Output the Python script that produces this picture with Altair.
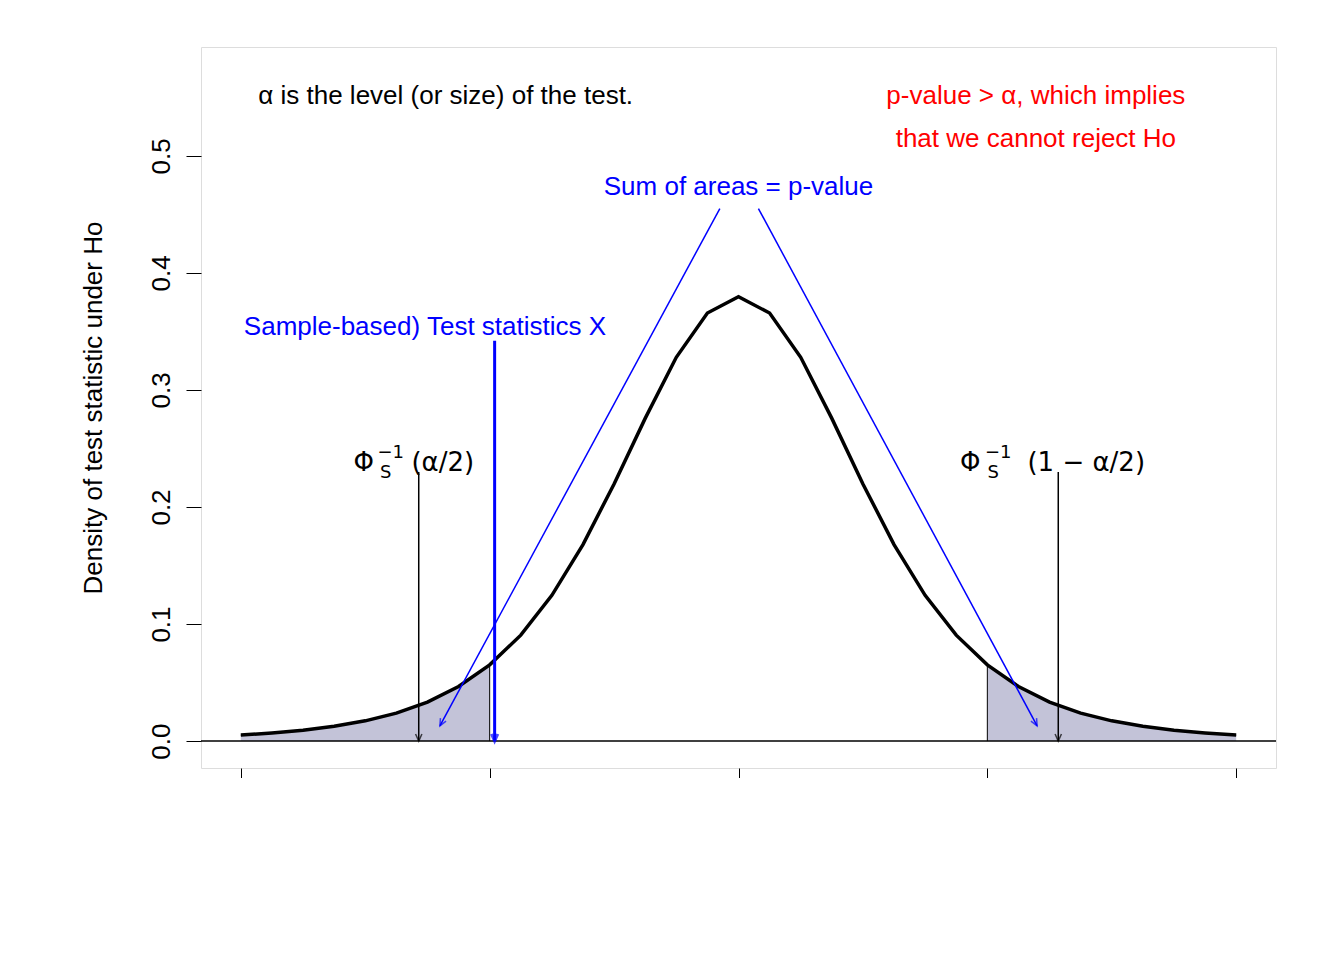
import altair as alt
import pandas as pd

# density, at steps of 0.25
xs = [-4, -3.75, -3.5, -3.25, -3, -2.75, -2.5, -2.25, -2, -1.75, -1.5, -1.25, -1, -0.75, -0.5, -0.25,
      0, 0.25, 0.5, 0.75, 1, 1.25, 1.5, 1.75, 2, 2.25, 2.5, 2.75, 3, 3.25, 3.5, 3.75, 4]
half = [0.3796, 0.3657, 0.3279, 0.2757, 0.2197, 0.1679, 0.1245, 0.0905, 0.0651,
        0.0466, 0.0333, 0.0239, 0.0173, 0.0126, 0.0092, 0.0069, 0.0051]
dens = half[::-1] + half[1:]

crit = 2.57
stat = -1.96
font = "Liberation Sans"
FS = 26

X = alt.Scale(domain=[-4.32, 4.32], nice=False, zero=False)
Y = alt.Scale(domain=[-0.023, 0.593], nice=False, zero=False)

df = pd.DataFrame({"x": xs, "y": dens})
left = df[df.x <= -2]
right = df[df.x >= 2]

xax = alt.Axis(values=[-4, -2, 0, 2, 4], domain=False, grid=False, tickSize=15, tickColor="black",
               labelFontSize=FS, labelFont=font, labelColor="black", labelPadding=14,
               title="Test statistic S", titleFontSize=FS, titleFont=font, titleFontWeight="normal",
               titlePadding=40, titleColor="black")
yax = alt.Axis(values=[0, 0.1, 0.2, 0.3, 0.4, 0.5], format=".1f", domain=False, grid=False, tickSize=15,
               tickColor="black", labelFontSize=FS, labelFont=font, labelColor="black", labelAngle=270,
               labelAlign="center", labelBaseline="bottom", labelPadding=12,
               title="Density of test statistic under Ho", titleFontSize=FS, titleFont=font,
               titleFontWeight="normal", titlePadding=42, titleColor="black")

base = alt.Chart(df)
axes = base.mark_line(opacity=0).encode(x=alt.X("x:Q", scale=X, axis=xax), y=alt.Y("y:Q", scale=Y, axis=yax))


def shade(d):
    return alt.Chart(d).mark_area(color="#a9a9c8", line={"color": "black", "strokeWidth": 1}).encode(
        x=alt.X("x:Q", scale=X), y=alt.Y("y:Q", scale=Y), y2=alt.datum(0))


edges = alt.Chart(pd.DataFrame({"x": [-2, 2], "y": [0.0651, 0.0651]})).mark_rule(color="black").encode(
    x=alt.X("x:Q", scale=X), y=alt.Y("y:Q", scale=Y), y2=alt.datum(0))

curve = base.mark_line(color="black", strokeWidth=3.5).encode(x=alt.X("x:Q", scale=X), y=alt.Y("y:Q", scale=Y))
zero = alt.Chart(pd.DataFrame({"y": [0]})).mark_rule(color="black", strokeWidth=1.5).encode(y=alt.Y("y:Q", scale=Y))

# arrows
segs = pd.DataFrame({
    "x": [-crit, crit, stat, -0.15, 0.16],
    "y": [0.23, 0.23, 0.342, 0.455, 0.455],
    "x2": [-crit, crit, stat, -2.4, 2.4],
    "y2": [0, 0, 0, 0.013, 0.013],
    "c": ["black", "black", "blue", "blue", "blue"],
    "w": [1.5, 1.5, 3, 1.5, 1.5],
    "ang": [0, 0, 0, 28.4, 331.6],
})
lines = alt.Chart(segs).mark_rule().encode(
    x=alt.X("x:Q", scale=X), y=alt.Y("y:Q", scale=Y), x2="x2:Q", y2="y2:Q",
    color=alt.Color("c:N", scale=None), strokeWidth=alt.StrokeWidth("w:Q", scale=None))
heads = alt.Chart(segs).mark_point(shape="M -0.45 -1 L 0 0 L 0.45 -1", filled=False, size=200).encode(
    x=alt.X("x2:Q", scale=X), y=alt.Y("y2:Q", scale=Y), angle=alt.Angle("ang:Q", scale=None),
    color=alt.Color("c:N", scale=None), strokeWidth=alt.StrokeWidth("w:Q", scale=None))

texts = pd.DataFrame({
    "x": [-3.86, 2.39, 2.39, 0, -2.52],
    "y": [0.551, 0.551, 0.514, 0.473, 0.354],
    "t": ["α is the level (or size) of the test.", "p-value > α, which implies",
          "that we cannot reject Ho", "Sum of areas = p-value", "Sample-based) Test statistics X"],
    "c": ["black", "red", "red", "blue", "blue"],
    "a": ["left", "center", "center", "center", "center"],
})
label_layers = []
for a in ["left", "center"]:
    label_layers.append(alt.Chart(texts[texts.a == a]).mark_text(
        font=font, fontSize=FS, baseline="middle", align=a).encode(
        x=alt.X("x:Q", scale=X), y=alt.Y("y:Q", scale=Y), text="t:N", color=alt.Color("c:N", scale=None)))

phi = pd.DataFrame({
    "x": [-crit] * 4 + [crit] * 4,
    "t": ["Φ", "S", "−1", "(α/2)", "Φ", "S", "−1", "(1 − α/2)"],
    "dx": [-55, -33, -28, 24, -88, -65, -60, 28],
    "dy": [0, 10, -10, 0, 0, 10, -10, 0],
    "s": [26, 18, 18, 26, 26, 18, 18, 26],
})
phi_layers = []
for _, r in phi.iterrows():
    phi_layers.append(alt.Chart(pd.DataFrame([r])).mark_text(
        font="DejaVu Sans", color="black", baseline="middle", fontSize=int(r.s), dx=int(r.dx), dy=int(r.dy)
    ).encode(x=alt.X("x:Q", scale=X), y=alt.datum(0.238), text="t:N"))

chart = alt.layer(axes, shade(left), shade(right), edges, zero, curve, lines, heads,
                  *label_layers, *phi_layers).properties(
    width=1075, height=721, autosize=alt.AutoSizeParams(type="none"),
    padding={"left": 193, "top": 39, "right": 10, "bottom": 10},
).configure_view(stroke="black", strokeWidth=1.5).configure(background="white")

chart.save("out.html", embed_options={"renderer": "svg", "actions": False})
